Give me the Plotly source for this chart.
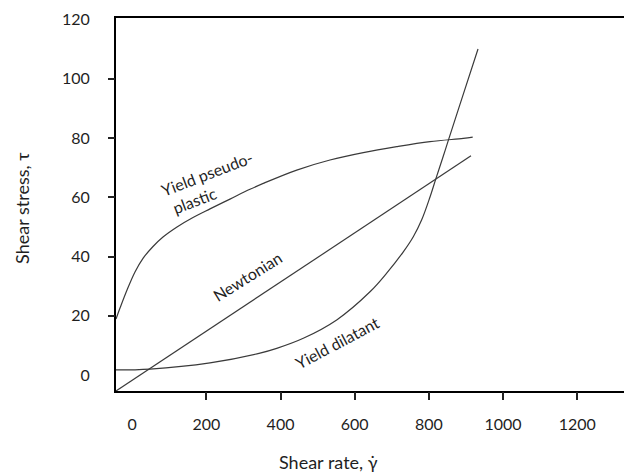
import plotly.graph_objects as go

# Flow curves: shear stress vs shear rate
pseudo_rate = [-43.6, -32.8, -13.9, 7.6, 29.2, 56.2, 83.1, 120.9, 164.0, 209.8,
               263.7, 317.6, 353.5, 443.6, 533.3, 623.1, 713.2, 802.9, 892.7, 918.1]
pseudo_stress = [18.9, 22.6, 28.7, 34.8, 39.4, 43.4, 46.6, 50.0, 53.2, 56.1,
                 59.4, 62.7, 64.7, 69.2, 72.6, 75.1, 77.1, 78.8, 79.9, 80.3]

newton_rate = [-43.6, 913.5]
newton_stress = [-5.4, 74.0]

dilatant_rate = [-43.6, 48.1, 209.8, 344.6, 389.7, 461.4, 551.4, 641.2, 686.2,
                 731.0, 757.9, 780.6, 803.0, 819.1, 838.0, 851.5, 883.8, 932.4]
dilatant_stress = [1.7, 2.0, 4.1, 7.4, 9.0, 12.4, 18.6, 28.1, 34.4,
                   41.6, 46.7, 52.4, 60.1, 66.4, 73.6, 78.9, 91.4, 110.1]

# Axis labelling
x_label_vals = [0, 200, 400, 600, 800, 1000, 1200]
x_tick_marks = [200, 400, 600, 800, 1000, 1200]
y_label_vals = [0, 20, 40, 60, 80, 100, 120]
y_tick_marks = [20, 40, 60, 80, 100]

X_RANGE = [-43.6, 1326]
Y_RANGE = [-5.4, 120.55]

FONT = "Lato, 'Noto Sans', 'DejaVu Sans', sans-serif"
LINE_COLOR = "#3a3a3a"
TEXT_COLOR = "#1f1f1f"

fig = go.Figure()
line_style = dict(color=LINE_COLOR, width=1.2, shape="spline", smoothing=1.0)
fig.add_trace(go.Scatter(x=pseudo_rate, y=pseudo_stress, mode="lines",
                         line=line_style, hoverinfo="skip", name="Yield pseudo-plastic"))
fig.add_trace(go.Scatter(x=newton_rate, y=newton_stress, mode="lines",
                         line=dict(color=LINE_COLOR, width=1.2), hoverinfo="skip", name="Newtonian"))
fig.add_trace(go.Scatter(x=dilatant_rate, y=dilatant_stress, mode="lines",
                         line=line_style, hoverinfo="skip", name="Yield dilatant"))
# empty traces that bring the tick-mark overlay axes into existence
fig.add_trace(go.Scatter(x=[None], y=[None], xaxis="x2", yaxis="y", hoverinfo="skip", showlegend=False))
fig.add_trace(go.Scatter(x=[None], y=[None], xaxis="x", yaxis="y2", hoverinfo="skip", showlegend=False))

fig.update_layout(
    width=624, height=473,
    margin=dict(l=116, r=0, t=18, b=82),
    plot_bgcolor="white", paper_bgcolor="white",
    showlegend=False,
    font=dict(family=FONT, size=16, color=TEXT_COLOR),
    xaxis=dict(range=X_RANGE, tickmode="array", tickvals=x_label_vals,
               ticktext=[str(v) for v in x_label_vals],
               ticks="outside", ticklen=8, tickcolor="rgba(0,0,0,0)",
               ticklabelstandoff=10,
               showline=True, linecolor="black", linewidth=2, mirror=True,
               showgrid=False, zeroline=False),
    yaxis=dict(range=Y_RANGE, tickmode="array", tickvals=y_label_vals,
               ticktext=[str(v) for v in y_label_vals],
               ticks="outside", ticklen=7, tickcolor="rgba(0,0,0,0)",
               ticklabelstandoff=14,
               showline=True, linecolor="black", linewidth=2, mirror=False,
               showgrid=False, zeroline=False),
    xaxis2=dict(range=X_RANGE, overlaying="x", anchor="y", side="bottom",
                tickmode="array", tickvals=x_tick_marks, showticklabels=False,
                ticks="outside", ticklen=8, tickwidth=1.5, tickcolor="#222222",
                showline=False, showgrid=False, zeroline=False),
    yaxis2=dict(range=Y_RANGE, overlaying="y", anchor="x", side="left",
                tickmode="array", tickvals=y_tick_marks, showticklabels=False,
                ticks="outside", ticklen=7, tickwidth=1.5, tickcolor="#222222",
                showline=False, showgrid=False, zeroline=False),
)

curve_font = dict(family=FONT, size=16, color=TEXT_COLOR)
labels = [
    ("Yield pseudo-", 201.7, 67.9, -21),
    ("plastic", 166.7, 58.8, -21),
    ("Newtonian", 309.6, 33.1, -32),
    ("Yield dilatant", 552.2, 11.1, -28),
]
for text, lx, ly, ang in labels:
    fig.add_annotation(x=lx, y=ly, xref="x", yref="y", text=text, showarrow=False,
                       textangle=ang, font=curve_font, xanchor="center", yanchor="middle")

title_font = dict(family=FONT, size=18, color=TEXT_COLOR)
fig.add_annotation(x=0.419, y=-0.190, xref="paper", yref="paper",
                   text="Shear rate, γ\u0307", showarrow=False, font=title_font,
                   xanchor="center", yanchor="middle")
fig.add_annotation(x=-0.185, y=0.491, xref="paper", yref="paper",
                   text="Shear stress, τ", showarrow=False, font=title_font,
                   textangle=-90, xanchor="center", yanchor="middle")

fig.write_html("out.html")
